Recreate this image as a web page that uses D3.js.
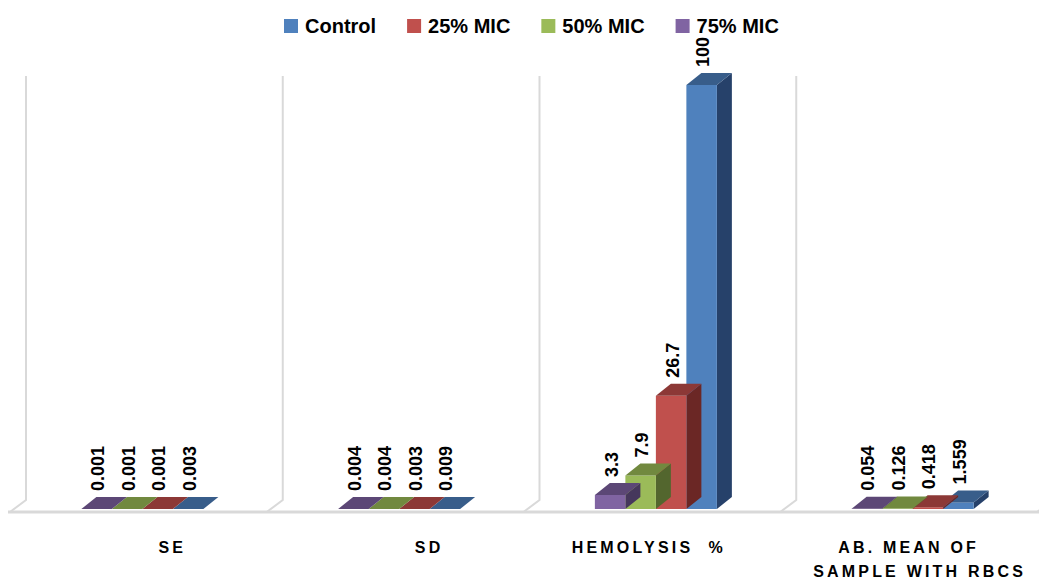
<!DOCTYPE html>
<html>
<head>
<meta charset="utf-8">
<script src="https://cdn.jsdelivr.net/npm/d3@7"></script>
<style>
  html, body { margin: 0; padding: 0; background: #ffffff; }
  svg { display: block; font-family: "Liberation Sans", Arial, sans-serif; }
</style>
</head>
<body>
<svg id="chart" width="1039" height="581"></svg>
<script>
// Categories along the floor
const categories = ["SE", "SD", "HEMOLYSIS  %", "AB. MEAN OF SAMPLE WITH RBCS"];
// Lines of each category label as set under the floor
const categoryLabelLines = [["SE"], ["SD"], ["HEMOLYSIS  %"], ["AB. MEAN OF", "SAMPLE WITH RBCS"]];
const seriesNames = ["Control", "25% MIC", "50% MIC", "75% MIC"];

// Values per series, in category order
const controlValues = [0.003, 0.009, 100, 1.559];
const mic25Values   = [0.001, 0.003, 26.7, 0.418];
const mic50Values   = [0.001, 0.004, 7.9, 0.126];
const mic75Values   = [0.001, 0.004, 3.3, 0.054];

const valueAxisMax = 100;

// Face shades: front, top, side
const frontColors = ["#4F81BD", "#C0504D", "#9BBB59", "#8064A2"];
const topColors   = ["#385D8A", "#8C3836", "#71893F", "#5C4776"];
const sideColors  = ["#26416A", "#6B2725", "#53662E", "#46375C"];

// Horizontal nudge of each category-label line from its band centre (layout only)
const labelLineNudge = [[18], [18], [-19], [-16, -5]];

const seriesValues = [controlValues, mic25Values, mic50Values, mic75Values];

const svg = d3.select("#chart");
const W = 1039, H = 581;
svg.append("rect").attr("width", W).attr("height", H).attr("fill", "#fff");

// Oblique depth of the plot floor and of each bar
const floorDx = 16, floorDy = 12;
const barDx = 15, barDy = 12;
const wallBase = 500, floorFront = wallBase + floorDy;
const barBase = 509;

// Category bands on the back wall
const x0 = d3.scaleBand().domain(categories).range([26, 1053]).paddingInner(0).paddingOuter(0);
// Bars inside a group: 75% MIC on the left, Control on the right
const groupWidth = 122;
const x1 = d3.scaleBand().domain(seriesNames.slice().reverse()).range([-groupWidth / 2, groupWidth / 2]);
const y = d3.scaleLinear().domain([0, valueAxisMax]).range([barBase, barBase - 424]);

const grid = svg.append("g").attr("stroke", "#d9d9d9").attr("stroke-width", 2).attr("fill", "none");
// Back-wall separators running down to the floor front
const sepX = categories.map(c => x0(c)).concat([x0(categories[categories.length - 1]) + x0.bandwidth()]);
sepX.forEach(sx => {
  grid.append("path")
    .attr("d", `M${sx},${y(valueAxisMax) - barDy + 3} L${sx},${wallBase} L${sx - floorDx},${floorFront}`);
});
// Floor front edge
grid.append("line")
  .attr("x1", sepX[0] - floorDx - 2).attr("x2", W)
  .attr("y1", floorFront).attr("y2", floorFront)
  .attr("stroke-width", 3);

// Bars, drawn in series order
const bars = svg.append("g");
const labels = svg.append("g");
seriesNames.forEach((name, si) => {
  categories.forEach((cat, ci) => {
    const v = seriesValues[si][ci];
    const xc = x0(cat) + x0.bandwidth() / 2 - barDx * 0.8;
    const xl = xc + x1(name);
    const w = x1.bandwidth();
    const yt = y(v), yb = y(0);
    const g = bars.append("g");
    g.append("polygon")
      .attr("points", [[xl + w, yt], [xl + w + barDx, yt - barDy], [xl + w + barDx, yb - barDy], [xl + w, yb]].join(" "))
      .attr("fill", sideColors[si]);
    g.append("rect")
      .attr("x", xl).attr("y", yt).attr("width", w).attr("height", Math.max(0, yb - yt))
      .attr("fill", frontColors[si]);
    g.append("polygon")
      .attr("points", [[xl, yt], [xl + w, yt], [xl + w + barDx, yt - barDy], [xl + barDx, yt - barDy]].join(" "))
      .attr("fill", topColors[si]);

    const lx = xl + w / 2 + 1, ly = yt - barDy - 6;
    labels.append("text")
      .attr("transform", `translate(${lx},${ly}) rotate(-90)`)
      .attr("dy", "0.36em")
      .attr("font-size", 18).attr("font-weight", "bold").attr("fill", "#000")
      .text(String(v));
  });
});

// Category labels under the floor
const catG = svg.append("g")
  .attr("font-size", 16).attr("font-weight", "bold").attr("fill", "#000")
  .attr("text-anchor", "middle").style("letter-spacing", "3.2px");
categories.forEach((cat, ci) => {
  const center = x0(cat) + x0.bandwidth() / 2;
  categoryLabelLines[ci].forEach((ln, i) => {
    catG.append("text")
      .attr("x", center + labelLineNudge[ci][i]).attr("y", 553 + i * 24)
      .attr("xml:space", "preserve").style("white-space", "pre")
      .text(ln);
  });
});

// Legend across the top
const legend = svg.append("g").attr("font-size", 20).attr("font-weight", "bold");
let lxPos = 284;
seriesNames.forEach((name, si) => {
  legend.append("rect").attr("x", lxPos).attr("y", 19).attr("width", 14).attr("height", 14).attr("fill", frontColors[si]);
  const t = legend.append("text").attr("x", lxPos + 21).attr("y", 33).attr("fill", "#000").text(name);
  lxPos += 21 + t.node().getComputedTextLength() + 31;
});
</script>
</body>
</html>
